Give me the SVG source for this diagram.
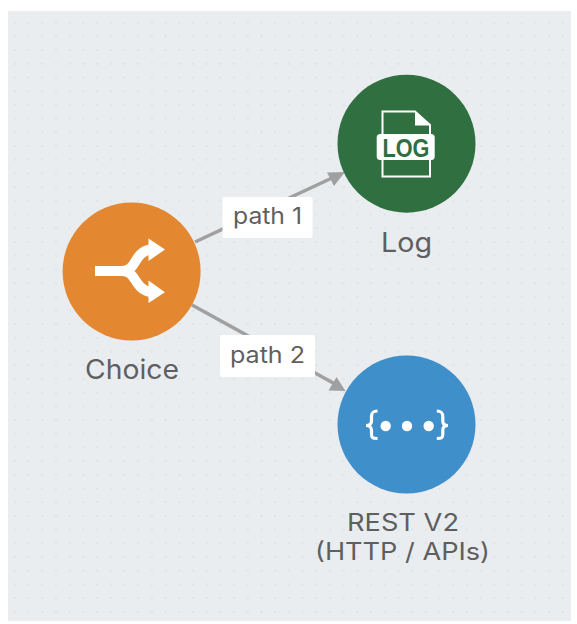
<svg xmlns="http://www.w3.org/2000/svg" width="577" height="624" viewBox="0 0 577 624">
<style>
.lbl{font-family:"Inter","Open Sans","Liberation Sans",sans-serif;fill:#5f5f5f;text-anchor:middle}
.node{font-size:27px}
.multi{font-size:24px}
.edge{font-size:23px}
.conn{stroke:#a0a0a0;stroke-width:3.500;fill:none}
.head{fill:#a0a0a0}
.box{fill:#fff}
.ico{fill:#fff}
</style>
<defs>
<pattern id="dots" x="8" y="9" width="13.7" height="13.7" patternUnits="userSpaceOnUse">
<circle cx="6.9" cy="13.7" r="1.2" fill="#e0e3e6"/><circle cx="6.9" cy="0" r="1.2" fill="#e0e3e6"/>
</pattern>
</defs>
<rect x="8" y="11" width="563" height="610" fill="#e9edf0"/>
<rect x="8" y="11" width="563" height="610" fill="url(#dots)"/>
<g id="connectors">
<path class="conn" d="M195 242L332 178"/>
<path class="head" d="M345 172L327 172.500L334 186Z"/>
<path class="conn" d="M192 305L335 384"/>
<path class="head" d="M345.500 391L336.500 377L328.500 390.500Z"/>
</g>
<g id="edge-path1">
<rect class="box" x="222.500" y="197" width="90" height="41" rx="2"/>
<text class="lbl edge" x="267.500" y="224" textLength="69" lengthAdjust="spacingAndGlyphs">path 1</text>
</g>
<g id="edge-path2">
<rect class="box" x="220" y="335" width="95" height="42" rx="2"/>
<text class="lbl edge" x="267.500" y="363" textLength="75" lengthAdjust="spacingAndGlyphs">path 2</text>
</g>
<g id="node-choice">
<circle cx="131.600" cy="271.500" r="69" fill="#e38730"/>
<path d="M95 271H122C137 271 133 253 150 249.500M122 271C137 271 133 288 150 292" fill="none" stroke="#fff" stroke-width="10"/>
<path class="ico" d="M148.500 238.500L165 249.500L148.500 261ZM148.500 280.500L165 292.300L148.500 303Z"/>
<text class="lbl node" x="132" y="379" textLength="94" lengthAdjust="spacingAndGlyphs">Choice</text>
</g>
<g id="node-log">
<circle cx="406.500" cy="143.700" r="69" fill="#2f6f40"/>
<path d="M382.500 136V111.500H415L430 125V136M430 160V176.500H382.500V160" fill="none" stroke="#fff" stroke-width="2"/>
<path d="M415 111L430.500 125.500H415Z" class="ico"/>
<rect x="376.700" y="134" width="58" height="26" rx="3.500" class="ico"/>
<text x="406" y="157" text-anchor="middle" font-family="Liberation Sans,sans-serif" font-weight="700" font-size="25" fill="#2f6f40" textLength="47" lengthAdjust="spacingAndGlyphs">LOG</text>
<text class="lbl node" x="406.500" y="252" textLength="51" lengthAdjust="spacingAndGlyphs">Log</text>
</g>
<g id="node-rest">
<circle cx="406.500" cy="424.500" r="69" fill="#3f8fca"/>
<path d="M377.500 411C372.500 411 371.500 413 371.500 417V421C371.500 424 369 425.500 366 425.500C369 425.500 371.500 427 371.500 430V434C371.500 438 372.500 438.500 377.500 438.500M436.800 411C441.800 411 442.800 413 442.800 417V421C442.800 424 445 425.500 448 425.500C445 425.500 442.800 427 442.800 430V434C442.800 438 441.800 438.500 436.800 438.500" fill="none" stroke="#fff" stroke-width="3.200"/>
<circle cx="385.700" cy="426" r="5.200" class="ico"/><circle cx="407" cy="426" r="5.200" class="ico"/><circle cx="428.700" cy="426" r="5.200" class="ico"/>
<text class="lbl multi" x="403" y="531" textLength="112" lengthAdjust="spacingAndGlyphs">REST V2</text>
<text class="lbl multi" x="402.500" y="560" textLength="175" lengthAdjust="spacingAndGlyphs">(HTTP / APIs)</text>
</g>
</svg>
